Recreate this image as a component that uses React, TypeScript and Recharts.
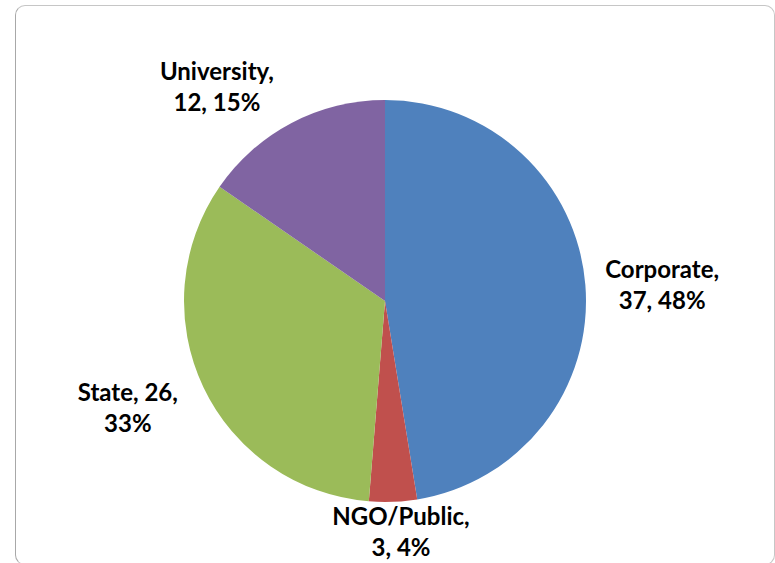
import { PieChart, Pie, Cell } from 'recharts';

const categories = ['Corporate', 'NGO/Public', 'State', 'University'];
const counts = [37, 3, 26, 12];
const percents = [48, 4, 33, 15];
const colors = ['#4F81BD', '#C0504D', '#9BBB59', '#8064A2'];

const chartData = categories.map((name, i) => ({ name, value: counts[i], pct: percents[i] }));

const RADIAN = Math.PI / 180;
const FONT_SIZE = 24;
const LINE_H = 31;

// excel "best fit" puts labels a bit irregularly, small nudges per label
const labelNudge: Record<string, [number, number]> = {
  Corporate: [-4, 5],
  'NGO/Public': [6, -19],
  State: [2, -17],
  University: [-40, 29],
};

// greedy wrap, like excel does for data labels
const wrapLabel = (text: string, maxChars: number) => {
  const words = text.split(' ');
  const lines: string[] = [];
  let cur = '';
  words.forEach(w => {
    const next = cur ? `${cur} ${w}` : w;
    if (next.length > maxChars && cur) {
      lines.push(cur);
      cur = w;
    } else {
      cur = next;
    }
  });
  if (cur) lines.push(cur);
  return lines;
};

const renderLabel = (props: any) => {
  const { cx, cy, midAngle, outerRadius, payload, value } = props;
  const lines = wrapLabel(`${payload.name}, ${value}, ${payload.pct}%`, 11);
  const longest = Math.max(...lines.map(l => l.length));
  const hw = (longest * FONT_SIZE * 0.54) / 2;
  const hh = (lines.length * LINE_H) / 2;
  const cos = Math.cos(-midAngle * RADIAN);
  const sin = Math.sin(-midAngle * RADIAN);
  const r = outerRadius + 14 + Math.abs(cos) * hw + Math.abs(sin) * hh;
  const [nx, ny] = labelNudge[payload.name] || [0, 0];
  const x = cx + r * cos + nx;
  const y = cy + r * sin + ny;
  const top = y - hh + LINE_H / 2;
  return (
    <text x={x} y={top} textAnchor="middle" dominantBaseline="central" fill="#000"
      fontFamily="Lato, 'Open Sans', sans-serif" fontWeight="bold" fontSize={FONT_SIZE}>
      {lines.map((l, i) => (
        <tspan key={i} x={x} y={top + i * LINE_H}>{l}</tspan>
      ))}
    </text>
  );
};

const App = () => {
  return (
    <div style={{ position: 'absolute', left: 0, top: 0, width: 775, height: 563, background: '#fff', overflow: 'hidden' }}>
      <div style={{ position: 'absolute', left: 15, top: 5, width: 758, height: 558, border: '1px solid #c6c6c6', borderLeftColor: '#a8a8a8', borderRadius: 10 }} />
      <div style={{ position: 'absolute', left: 0, top: 0 }}>
        <PieChart width={775} height={563} margin={{ top: 0, right: 0, bottom: 0, left: 0 }}>
          <Pie
            data={chartData}
            dataKey="value"
            nameKey="name"
            cx={385}
            cy={301}
            outerRadius={201}
            startAngle={90}
            endAngle={-270}
            stroke="none"
            label={renderLabel}
            labelLine={false}
            isAnimationActive={false}
          >
            {chartData.map((entry, i) => (
              <Cell key={entry.name} fill={colors[i]} />
            ))}
          </Pie>
        </PieChart>
      </div>
    </div>
  );
};

export default App;
